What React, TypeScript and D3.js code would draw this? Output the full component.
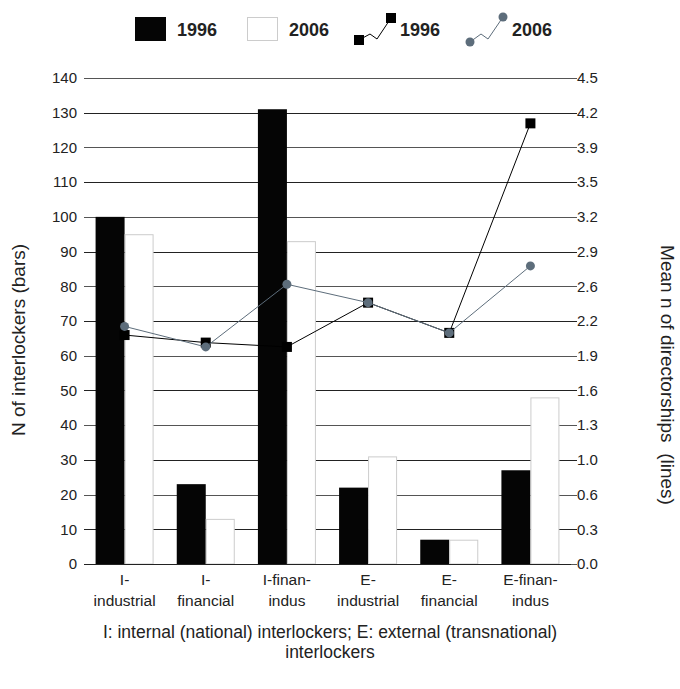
import React from "react";
import * as d3 from "d3";

const categories = ["I-industrial", "I-financial", "I-finan-indus", "E-industrial", "E-financial", "E-finan-indus"];
const catLines = [["I-", "industrial"], ["I-", "financial"], ["I-finan-", "indus"], ["E-", "industrial"], ["E-", "financial"], ["E-finan-", "indus"]];
const bars1996 = [100, 23, 131, 22, 7, 27];
const bars2006 = [95, 13, 93, 31, 7, 48];
const line1996 = [2.12, 2.05, 2.01, 2.42, 2.14, 4.08];
const line2006 = [2.2, 2.01, 2.59, 2.42, 2.14, 2.76];
const leftTicks = [0, 10, 20, 30, 40, 50, 60, 70, 80, 90, 100, 110, 120, 130, 140];
const rightLabels = ["0.0", "0.3", "0.6", "1.0", "1.3", "1.6", "1.9", "2.2", "2.6", "2.9", "3.2", "3.5", "3.9", "4.2", "4.5"];

const FONT = "'Liberation Sans', Arial, sans-serif";

export default function App() {
  const W = 680, H = 689;
  const x0 = 84, x1 = 571, yB = 564, yT = 78;
  const x = d3.scaleBand<string>().domain(categories).range([x0, x1]);
  const yL = d3.scaleLinear().domain([0, 140]).range([yB, yT]);
  const yR = d3.scaleLinear().domain([0, 4.5]).range([yB, yT]);
  const bw = 29;
  const cx = (i: number) => (x(categories[i]) as number) + x.bandwidth() / 2;
  const line = d3.line<number>().x((_, i) => cx(i)).y((d) => yR(d));
  const lineCol = "#5d6d7b";
  const txt = "#222";

  return (
    <svg width={W} height={H} style={{ position: "absolute", left: 0, top: 0, fontFamily: FONT }}>
      <rect width={W} height={H} fill="#fff" />
      {/* legend */}
      <rect x={135} y={17} width={31} height={24} fill="#050505" />
      <text x={177} y={36} fontSize={18} fontWeight="bold" fill={txt}>1996</text>
      <rect x={247.5} y={17.5} width={30} height={23} fill="#fff" stroke="#ccc" />
      <text x={289} y={36} fontSize={18} fontWeight="bold" fill={txt}>2006</text>
      <path d="M359,40 L370,34 L377,39 L391,18" fill="none" stroke="#000" strokeWidth={1} />
      <rect x={354} y={35} width={10} height={10} fill="#000" />
      <rect x={386} y={13} width={10} height={10} fill="#000" />
      <text x={400} y={36} fontSize={18} fontWeight="bold" fill={txt}>1996</text>
      <path d="M470,42 L481,34 L488,39 L503,17" fill="none" stroke={lineCol} strokeWidth={1} />
      <circle cx={470} cy={42} r={4.5} fill={lineCol} />
      <circle cx={503} cy={17} r={4.5} fill={lineCol} />
      <text x={512} y={36} fontSize={18} fontWeight="bold" fill={txt}>2006</text>

      {/* gridlines and ticks */}
      {leftTicks.map((t, i) => (
        <g key={t}>
          <line x1={x0} x2={x1 + 6} y1={Math.round(yL(t)) + 0.5} y2={Math.round(yL(t)) + 0.5} stroke={i % 2 ? "#222" : "#555"} strokeWidth={1} />
          <text x={77} y={yL(t)} dy="0.35em" fontSize={15} textAnchor="end" fill={txt}>{t}</text>
          <text x={577} y={yL(t)} dy="0.35em" fontSize={15} textAnchor="start" fill={txt}>{rightLabels[i]}</text>
        </g>
      ))}

      {/* bars */}
      {categories.map((c, i) => (
        <g key={c}>
          <rect x={cx(i) - bw} y={yL(bars1996[i])} width={bw} height={yB - yL(bars1996[i])} fill="#050505" />
          <rect x={cx(i) + 0.5} y={yL(bars2006[i]) + 0.5} width={bw - 1} height={yB - yL(bars2006[i]) - 0.5} fill="#fff" stroke="#ccc" strokeWidth={1} />
        </g>
      ))}
      <line x1={x0} x2={x1} y1={yB + 0.5} y2={yB + 0.5} stroke="#222" />

      {/* lines */}
      <path d={line(line1996) || ""} fill="none" stroke="#000" strokeWidth={1} />
      {line1996.map((v, i) => (
        <rect key={i} x={cx(i) - 5} y={yR(v) - 5} width={10} height={10} fill="#000" />
      ))}
      <path d={line(line2006) || ""} fill="none" stroke={lineCol} strokeWidth={1} />
      {line2006.map((v, i) => (
        <circle key={i} cx={cx(i)} cy={yR(v)} r={4.5} fill={lineCol} />
      ))}

      {/* x labels */}
      {catLines.map((ls, i) => (
        <text key={i} x={cx(i)} y={585} fontSize={15.5} textAnchor="middle" fill={txt}>
          <tspan x={cx(i)}>{ls[0]}</tspan>
          <tspan x={cx(i)} dy={21}>{ls[1]}</tspan>
        </text>
      ))}

      {/* axis titles */}
      <text transform="translate(25,340) rotate(-90)" fontSize={19} textAnchor="middle" fill={txt}>N of interlockers (bars)</text>
      <text transform="translate(661,375) rotate(90)" fontSize={19} textAnchor="middle" fill={txt} style={{ whiteSpace: "pre" }}>Mean n of directorships  (lines)</text>

      <text x={330} y={638} fontSize={17.5} textAnchor="middle" fill={txt}>I: internal (national) interlockers; E: external (transnational)</text>
      <text x={330} y={658} fontSize={17.5} textAnchor="middle" fill={txt}>interlockers</text>
    </svg>
  );
}
